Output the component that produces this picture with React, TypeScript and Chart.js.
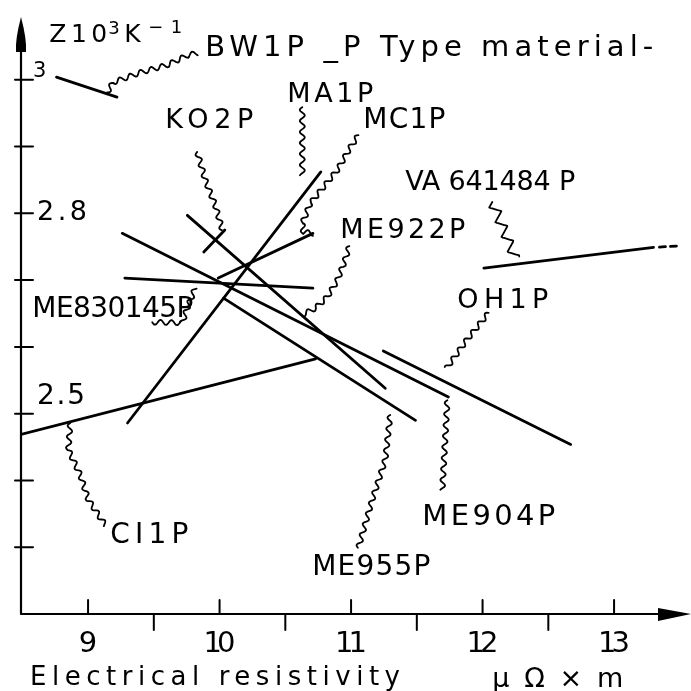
import { useEffect, useRef } from "react";
import { Chart, registerables } from "chart.js";

Chart.register(...registerables);

// ---- axis ranges & ticks ----
const X_MIN = 8.49;
const X_MAX = 13.585;
const Y_MIN = 2.2;
const Y_MAX = 3.097;
const xMajorTicks = [9, 10, 11, 12, 13];
const xMinorTicks = [9.5, 10.5, 11.5, 12.5];
const xTickLabels = ["9", "10", "11", "12", "13"];
const yTicks = [2.3, 2.4, 2.5, 2.6, 2.7, 2.8, 2.9, 3.0];
const yLabelValues = [3.0, 2.8, 2.5];
const yTickLabels = ["3", "2.8", "2.5"];
const xTitle = "Electrical resistivity";
const xUnit = "μΩ×m";

// ---- series (resistivity μΩ·m, Z 10^3 K^-1) ----
const bw1pX = [8.76, 9.22];
const bw1pY = [3.004, 2.974];
const ma1pX = [9.3, 10.77];
const ma1pY = [2.486, 2.862];
const ko2pX = [9.88, 10.04];
const ko2pY = [2.742, 2.775];
const mc1pX = [9.99, 10.71];
const mc1pY = [2.703, 2.77];
const me922pX = [9.755, 11.26];
const me922pY = [2.797, 2.538];
const me830145pX = [9.28, 10.71];
const me830145pY = [2.703, 2.688];
const me904pX = [9.26, 11.74];
const me904pY = [2.77, 2.525];
const me955pX = [10.03, 11.49];
const me955pY = [2.673, 2.49];
const oh1pX = [11.245, 12.67];
const oh1pY = [2.594, 2.454];
const va641484pX = [12.01, 13.3];
const va641484pY = [2.718, 2.749];
const va641484pExtX = [13.345, 13.48];
const va641484pExtY = [2.7495, 2.751];
const ci1pX = [8.49, 10.73];
const ci1pY = [2.469, 2.582];

const labelTexts = [
  "BW1P _P Type material-",
  "MA1P",
  "KO2P",
  "MC1P",
  "VA 641484 P",
  "ME922P",
  "ME830145P",
  "OH1P",
  "CI1P",
  "ME955P",
  "ME904P",
];

// ---- annotation layout (data coords: left, baseline, right; font px) ----
const labelLayout = [
  { x: 9.892, y: 3.035, xr: 13.298, size: 29 },
  { x: 10.515, y: 2.9665, xr: 11.169, size: 27 },
  { x: 9.587, y: 2.9275, xr: 10.257, size: 27 },
  { x: 11.093, y: 2.9275, xr: 11.717, size: 28 },
  { x: 11.412, y: 2.835, xr: 12.705, size: 27 },
  { x: 10.918, y: 2.763, xr: 11.869, size: 27 },
  { x: 8.576, y: 2.6446, xr: 9.8, size: 28 },
  { x: 11.808, y: 2.658, xr: 12.5, size: 27 },
  { x: 9.169, y: 2.306, xr: 9.762, size: 28 },
  { x: 10.705, y: 2.258, xr: 11.603, size: 28 },
  { x: 11.542, y: 2.333, xr: 12.553, size: 29 },
];

const leaders: { pts: number[][]; zig?: boolean }[] = [
  { pts: [[9.146, 2.981], [9.19, 2.996], [9.4, 3.011], [9.6, 3.022], [9.76, 3.037], [9.83, 3.04]] },
  { pts: [[10.629, 2.959], [10.629, 2.857]] },
  { pts: [[9.83, 2.892], [9.891, 2.85], [9.967, 2.812], [10.021, 2.775]] },
  { pts: [[11.056, 2.917], [10.995, 2.899], [10.896, 2.865], [10.789, 2.839], [10.69, 2.815], [10.629, 2.785], [10.637, 2.772], [10.713, 2.77]] },
  { pts: [[12.074, 2.817], [12.249, 2.733]], zig: true },
  { pts: [[10.987, 2.751], [10.949, 2.727], [10.896, 2.7], [10.82, 2.675], [10.729, 2.658], [10.638, 2.649]] },
  { pts: [[9.488, 2.637], [9.716, 2.636], [9.754, 2.658], [9.815, 2.688]] },
  { pts: [[12.046, 2.651], [11.878, 2.61], [11.726, 2.568]] },
  { pts: [[8.865, 2.486], [8.85, 2.446], [8.941, 2.408], [9.002, 2.371], [9.131, 2.333]] },
  { pts: [[11.298, 2.498], [11.26, 2.431], [11.161, 2.371], [11.055, 2.299]] },
  { pts: [[11.732, 2.52], [11.694, 2.386]] },
];

const FONT = '"DejaVu Sans", sans-serif';
let fontUid = 0;

function zip(xs: number[], ys: number[]) {
  return xs.map((x, i) => ({ x, y: ys[i] }));
}

// unique font string each time so that the letter spacing is always re-applied
function setFont(ctx: any, size: number, ls: number) {
  fontUid += 1;
  if ("letterSpacing" in ctx) ctx.letterSpacing = ls.toFixed(3) + "px";
  ctx.font = `${(size + fontUid * 0.0001).toFixed(4)}px ${FONT}`;
}

function fitText(ctx: any, text: string, x: number, y: number, size: number, width: number) {
  setFont(ctx, size, 0);
  const w = ctx.measureText(text).width;
  const n = Array.from(text).length;
  if (n > 1 && "letterSpacing" in ctx) {
    setFont(ctx, size, (width - w) / (n - 1));
    ctx.fillText(text, x, y);
    setFont(ctx, size, 0);
  } else if (n > 1) {
    ctx.save();
    ctx.translate(x, y);
    ctx.scale(width / w, 1);
    ctx.fillText(text, 0, 0);
    ctx.restore();
  } else {
    ctx.fillText(text, x, y);
  }
}

function wavy(ctx: any, pts: number[][], amp: number, wl: number, zig: boolean) {
  ctx.beginPath();
  let s = 0;
  let first = true;
  for (let i = 0; i < pts.length - 1; i++) {
    const [x0, y0] = pts[i];
    const [x1, y1] = pts[i + 1];
    const L = Math.hypot(x1 - x0, y1 - y0);
    if (L === 0) continue;
    const nx = -(y1 - y0) / L;
    const ny = (x1 - x0) / L;
    const steps = Math.max(1, Math.ceil(L));
    for (let k = 0; k <= steps; k++) {
      const t = k / steps;
      const ss = s + t * L;
      const ph = Math.sin((2 * Math.PI * ss) / wl);
      const o = zig ? amp * (2 / Math.PI) * Math.asin(ph) : amp * ph;
      const px = x0 + (x1 - x0) * t + nx * o;
      const py = y0 + (y1 - y0) * t + ny * o;
      if (first) {
        ctx.moveTo(px, py);
        first = false;
      } else ctx.lineTo(px, py);
    }
    s += L;
  }
  ctx.stroke();
}

const annotationPlugin = {
  id: "annot",
  beforeDraw(chart: any) {
    const ctx = chart.ctx;
    ctx.save();
    ctx.fillStyle = "#fff";
    ctx.fillRect(0, 0, chart.width, chart.height);
    ctx.restore();
  },
  afterDatasetsDraw(chart: any) {
    const ctx = chart.ctx;
    const xs = chart.scales.x;
    const ys = chart.scales.y;
    const px = (v: number) => xs.getPixelForValue(v);
    const py = (v: number) => ys.getPixelForValue(v);
    const { left, bottom, right, top } = chart.chartArea;
    ctx.save();
    ctx.strokeStyle = "#000";
    ctx.fillStyle = "#000";
    ctx.lineCap = "round";
    ctx.lineJoin = "round";

    // axes
    ctx.lineWidth = 2.2;
    ctx.beginPath();
    ctx.moveTo(left, bottom);
    ctx.lineTo(left, top + 35);
    ctx.moveTo(left, bottom);
    ctx.lineTo(right - 33, bottom);
    ctx.stroke();
    // arrows
    ctx.beginPath();
    ctx.moveTo(left, top + 2);
    ctx.quadraticCurveTo(left + 6, top + 25, left + 5, top + 37);
    ctx.lineTo(left - 5, top + 37);
    ctx.quadraticCurveTo(left - 6, top + 25, left, top + 2);
    ctx.closePath();
    ctx.fill();
    ctx.beginPath();
    ctx.moveTo(right, bottom);
    ctx.lineTo(right - 33, bottom - 6);
    ctx.lineTo(right - 33, bottom + 7);
    ctx.closePath();
    ctx.fill();

    // ticks
    ctx.lineWidth = 2;
    ctx.beginPath();
    yTicks.forEach((v) => {
      const y = py(v);
      ctx.moveTo(left - 6, y);
      ctx.lineTo(left + 12, y);
    });
    xMajorTicks.forEach((v) => {
      const x = px(v);
      ctx.moveTo(x, bottom);
      ctx.lineTo(x, bottom - 14);
    });
    xMinorTicks.forEach((v) => {
      const x = px(v);
      ctx.moveTo(x, bottom);
      ctx.lineTo(x, bottom + 16);
    });
    ctx.stroke();

    // y tick labels
    ctx.textBaseline = "alphabetic";
    ctx.textAlign = "left";
    const yLabStyle = [
      { dx: 12, dy: -3, size: 21, w: 15 },
      { dx: 16, dy: 7, size: 27, w: 50 },
      { dx: 16, dy: -10, size: 28, w: 48 },
    ];
    yTickLabels.forEach((t, i) => {
      const st = yLabStyle[i];
      fitText(ctx, t, left + st.dx, py(yLabelValues[i]) + st.dy, st.size, st.w);
    });

    // x tick labels
    xTickLabels.forEach((t, i) => {
      const c = px(xMajorTicks[i]);
      if (t.length > 1) fitText(ctx, t, c - 16, bottom + 38, 29, 32);
      else {
        setFont(ctx, 29, 0);
        ctx.textAlign = "center";
        ctx.fillText(t, c, bottom + 38);
        ctx.textAlign = "left";
      }
    });

    // axis titles
    fitText(ctx, xTitle, left + 9, bottom + 71, 26, 370);
    fitText(ctx, xUnit, px(12.074), bottom + 73, 27, 131);

    // y title: Z10^3 K^-1
    const tx = px(8.705);
    const ty = py(3.056);
    fitText(ctx, "Z10", tx, ty, 25, 58);
    setFont(ctx, 18, 0);
    ctx.fillText("3", tx + 59, ty - 8);
    setFont(ctx, 25, 0);
    ctx.fillText("K", tx + 75, ty);
    fitText(ctx, "−1", tx + 99, ty - 9, 18, 34);

    // series labels
    labelTexts.forEach((t, i) => {
      const L = labelLayout[i];
      fitText(ctx, t, px(L.x), py(L.y), L.size, px(L.xr) - px(L.x));
    });

    // leaders
    ctx.lineWidth = 1.8;
    leaders.forEach((ld) => {
      const pts = ld.pts.map(([x, y]) => [px(x), py(y)]);
      wavy(ctx, pts, ld.zig ? 5 : 2.5, ld.zig ? 16 : 11, !!ld.zig);
    });

    ctx.restore();
  },
};

function ds(label: string, xs: number[], ys: number[], dash?: number[]) {
  return {
    label,
    data: zip(xs, ys),
    showLine: true,
    borderColor: "#000",
    backgroundColor: "#000",
    borderWidth: 2.8,
    pointRadius: 0,
    borderCapStyle: "round" as const,
    borderDash: dash || [],
    tension: 0,
  };
}

export default function App() {
  const ref = useRef<HTMLCanvasElement | null>(null);
  useEffect(() => {
    if (!ref.current) return;
    const chart = new Chart(ref.current, {
      type: "scatter",
      data: {
        datasets: [
          ds("BW1P", bw1pX, bw1pY),
          ds("MA1P", ma1pX, ma1pY),
          ds("KO2P", ko2pX, ko2pY),
          ds("MC1P", mc1pX, mc1pY),
          ds("ME922P", me922pX, me922pY),
          ds("ME830145P", me830145pX, me830145pY),
          ds("ME904P", me904pX, me904pY),
          ds("ME955P", me955pX, me955pY),
          ds("OH1P", oh1pX, oh1pY),
          ds("VA641484P", va641484pX, va641484pY),
          ds("VA641484P ext", va641484pExtX, va641484pExtY, [6, 5]),
          ds("CI1P", ci1pX, ci1pY),
        ] as any,
      },
      options: {
        responsive: false,
        animation: false,
        devicePixelRatio: 1,
        layout: { padding: { left: 21, right: 0, top: 15, bottom: 77 } },
        plugins: { legend: { display: false }, tooltip: { enabled: false } },
        events: [],
        scales: {
          x: { type: "linear", min: X_MIN, max: X_MAX, display: false },
          y: { type: "linear", min: Y_MIN, max: Y_MAX, display: false },
        },
      },
      plugins: [annotationPlugin],
    });
    return () => chart.destroy();
  }, []);
  return (
    <div style={{ position: "fixed", left: 0, top: 0, width: 691, height: 691, background: "#fff" }}>
      <canvas ref={ref} width={691} height={691} style={{ display: "block" }} />
    </div>
  );
}
